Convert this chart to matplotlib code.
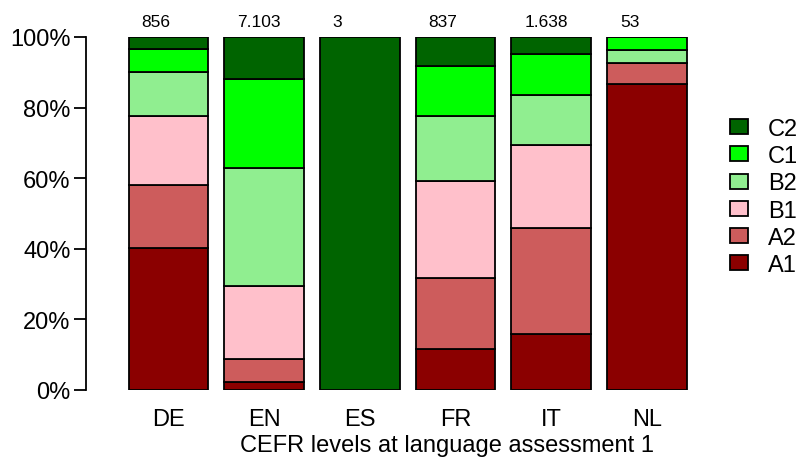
import matplotlib.pyplot as plt
import numpy as np

# CEFR levels per language, shares in percent (bottom to top: A1..C2)
languages = ["DE", "EN", "ES", "FR", "IT", "NL"]
counts = ["856", "7.103", "3", "837", "1.638", "53"]
levels = ["A1", "A2", "B1", "B2", "C1", "C2"]
a1 = [40.1, 2.2, 0.0, 11.5, 15.8, 86.8]
a2 = [18.0, 6.7, 0.0, 20.1, 30.0, 5.7]
b1 = [19.4, 20.7, 0.0, 27.5, 23.6, 0.0]
b2 = [12.7, 33.3, 0.0, 18.5, 14.2, 3.8]
c1 = [6.4, 25.1, 0.0, 14.2, 11.5, 3.8]
c2 = [3.4, 12.0, 100.0, 8.2, 4.9, 0.0]
colors = ["#8B0000", "#CD5C5C", "#FFC0CB", "#90EE90", "#00FF00", "#006400"]

plt.rcParams['font.family'] = ['Liberation Sans', 'DejaVu Sans']

fig = plt.figure(figsize=(7.98, 4.6), dpi=100)
ax = fig.add_axes([86 / 798, 69 / 460, 614 / 798, 353 / 460])

x = 0.7 + 1.2 * np.arange(len(languages))
bottom = np.zeros(len(languages))
handles = []
for lev, vals, col in zip(levels, [a1, a2, b1, b2, c1, c2], colors):
    vals = np.array(vals)
    h = ax.bar(x, vals, width=1.0, bottom=bottom, color=col,
               edgecolor="black", linewidth=1.3, label=lev)
    handles.append(h)
    bottom += vals

# sample sizes above the bars
for xi, n in zip(x, counts):
    ax.text(xi - 0.34, 102.3, n, ha="left", va="bottom", fontsize=12.5)

ax.set_xlim(-0.334, 7.365)
ax.set_ylim(0, 100)
ax.set_yticks(np.arange(0, 101, 20))
ax.set_yticklabels([f"{v}%" for v in range(0, 101, 20)], fontsize=17)
ax.set_xticks(x)
ax.set_xticklabels(languages, fontsize=17)
ax.tick_params(axis="x", length=0, pad=13)
ax.tick_params(axis="y", length=9, width=1.3, pad=2)
ax.set_xlabel("CEFR levels at language assessment 1", fontsize=17)
ax.xaxis.set_label_coords((447 - 86) / 614, -0.125)
for s in ["top", "right", "bottom"]:
    ax.spines[s].set_visible(False)
ax.spines["left"].set_linewidth(1.3)

fig.legend(handles[::-1], levels[::-1], loc="center left",
           bbox_to_anchor=(730 / 798, 1 - 198 / 460), frameon=False,
           fontsize=17, handlelength=0.75, handleheight=0.6,
           labelspacing=0.22, handletextpad=0.85,
           borderpad=0, borderaxespad=0)

fig.savefig("out.png", dpi=100)
